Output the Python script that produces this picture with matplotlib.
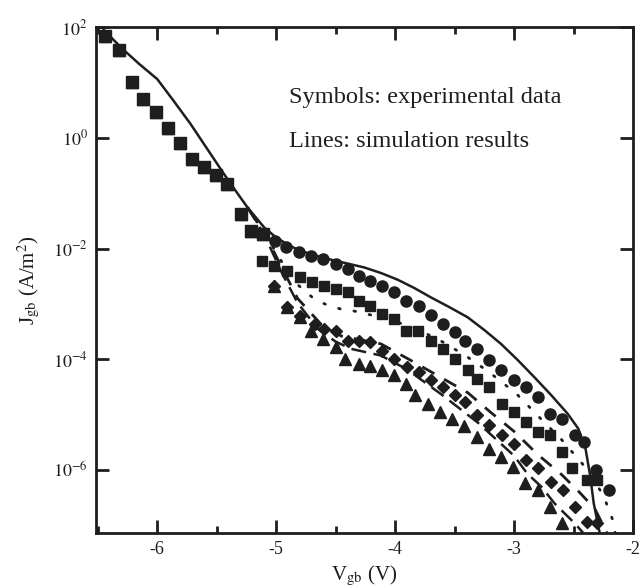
import numpy as np
import matplotlib
matplotlib.use("Agg")
import matplotlib.pyplot as plt
from matplotlib.ticker import FixedLocator, MultipleLocator

plt.rcParams["font.family"] = ["Liberation Serif", "DejaVu Serif"]
plt.rcParams["mathtext.fontset"] = "stix"

# ---- experimental data: gate voltage (V) and log10 of current density (A/m^2)
# high-field region where all four devices overlap
v_common = [-6.44, -6.32, -6.21, -6.12, -6.01, -5.91, -5.81, -5.71, -5.61,
            -5.51, -5.41, -5.30, -5.21, -5.11]
logj_common = [1.84, 1.58, 1.00, 0.70, 0.47, 0.17, -0.10, -0.38, -0.52,
               -0.68, -0.83, -1.37, -1.68, -1.74]

v_circle = [-5.01, -4.92, -4.81, -4.71, -4.61, -4.50, -4.40, -4.30, -4.21,
            -4.11, -4.01, -3.91, -3.80, -3.70, -3.60, -3.50, -3.41, -3.31,
            -3.21, -3.11, -3.00, -2.90, -2.80, -2.70, -2.60, -2.49, -2.41,
            -2.31, -2.20]
logj_circle = [-1.86, -1.98, -2.07, -2.13, -2.19, -2.28, -2.37, -2.49, -2.58,
               -2.67, -2.79, -2.94, -3.03, -3.19, -3.36, -3.51, -3.66, -3.81,
               -4.02, -4.20, -4.38, -4.50, -4.68, -4.98, -5.07, -5.37, -5.49,
               -6.00, -6.36]

v_square = [-5.12, -5.02, -4.91, -4.80, -4.70, -4.60, -4.50, -4.40, -4.30,
            -4.21, -4.11, -4.01, -3.91, -3.81, -3.70, -3.60, -3.50, -3.39,
            -3.31, -3.21, -3.10, -3.00, -2.90, -2.80, -2.70, -2.60, -2.51,
            -2.39, -2.30]
logj_square = [-2.22, -2.31, -2.40, -2.52, -2.61, -2.68, -2.73, -2.79, -2.94,
               -3.03, -3.18, -3.27, -3.48, -3.48, -3.66, -3.81, -3.99, -4.20,
               -4.35, -4.50, -4.80, -4.95, -5.13, -5.31, -5.37, -5.67, -5.97,
               -6.18, -6.18]

v_diamond = [-5.02, -4.91, -4.80, -4.67, -4.60, -4.50, -4.40, -4.30, -4.21,
             -4.11, -4.01, -3.90, -3.80, -3.70, -3.60, -3.50, -3.41, -3.31,
             -3.21, -3.10, -3.00, -2.90, -2.80, -2.69, -2.59, -2.49, -2.39,
             -2.30]
logj_diamond = [-2.67, -3.05, -3.22, -3.36, -3.45, -3.48, -3.66, -3.66, -3.69,
                -3.84, -3.99, -4.14, -4.23, -4.38, -4.50, -4.65, -4.77, -5.01,
                -5.19, -5.37, -5.52, -5.82, -5.97, -6.21, -6.36, -6.67, -6.93,
                -6.96]

v_triangle = [-5.02, -4.91, -4.80, -4.71, -4.61, -4.50, -4.42, -4.30, -4.21,
              -4.11, -4.01, -3.91, -3.83, -3.72, -3.62, -3.52, -3.42, -3.31,
              -3.21, -3.11, -3.01, -2.91, -2.80, -2.70, -2.60]
logj_triangle = [-2.67, -3.05, -3.24, -3.48, -3.63, -3.78, -3.99, -4.08, -4.12,
                 -4.20, -4.29, -4.44, -4.65, -4.80, -4.95, -5.07, -5.20, -5.40,
                 -5.61, -5.76, -5.94, -6.24, -6.36, -6.66, -6.96]

# ---- simulation curves
v_sim1 = [-6.45, -6.30, -6.15, -6.00, -5.86, -5.72, -5.58, -5.44, -5.34,
          -5.24, -5.10, -5.00, -4.90, -4.82, -4.68, -4.54, -4.40, -4.26,
          -4.12, -3.98, -3.84, -3.70, -3.55, -3.39, -3.25, -3.11, -2.97,
          -2.83, -2.69, -2.55, -2.46, -2.40, -2.36, -2.33, -2.28]
logj_sim1 = [1.95, 1.62, 1.33, 1.06, 0.66, 0.25, -0.20, -0.65, -0.96,
             -1.26, -1.62, -1.80, -1.93, -2.02, -2.12, -2.20, -2.27, -2.34,
             -2.44, -2.56, -2.71, -2.88, -3.05, -3.24, -3.47, -3.72, -4.01,
             -4.32, -4.64, -4.98, -5.25, -5.60, -6.10, -6.60, -7.13]

v_sim2 = [-5.24, -5.10, -4.95, -4.82, -4.68, -4.58, -4.46, -4.36, -4.10,
          -3.85, -3.62, -3.41, -3.21, -2.98, -2.79, -2.60, -2.40, -2.25,
          -2.17, -2.15]
logj_sim2 = [-1.26, -1.72, -2.25, -2.65, -2.91, -3.01, -3.09, -3.12, -3.25,
             -3.42, -3.66, -3.93, -4.23, -4.62, -5.04, -5.45, -5.95, -6.45,
             -6.90, -7.13]

v_sim3 = [-5.24, -5.10, -4.95, -4.82, -4.60, -4.45, -4.12, -3.90, -3.62,
          -3.39, -3.20, -3.00, -2.80, -2.60, -2.45, -2.32, -2.22]
logj_sim3 = [-1.26, -1.72, -2.35, -2.90, -3.42, -3.58, -3.72, -3.98, -4.32,
             -4.60, -4.95, -5.30, -5.72, -6.08, -6.40, -6.70, -7.13]

v_sim4 = [-5.24, -5.10, -4.95, -4.82, -4.65, -4.50, -4.37, -4.12, -3.90,
          -3.60, -3.30, -3.00, -2.89, -2.77, -2.66, -2.49, -2.42]
logj_sim4 = [-1.26, -1.75, -2.45, -2.98, -3.45, -3.68, -3.81, -3.93, -4.18,
             -4.65, -5.15, -5.74, -6.06, -6.30, -6.60, -6.96, -7.13]

x_ticks = [-6, -5, -4, -3, -2]
y_ticks = [1e-6, 1e-4, 1e-2, 1e0, 1e2]
y_ticklabels = [r"$10^{-6}$", r"$10^{-4}$", r"$10^{-2}$", r"$10^{0}$", r"$10^{2}$"]

fig = plt.figure(figsize=(6.41, 5.88), dpi=100)
ax = fig.add_axes([0.1498, 0.0935, 0.8377, 0.8605])

def J(vals):
    return 10.0 ** np.asarray(vals)

ink = "#1e1e1e"

# simulation lines
ax.plot(v_sim1, J(logj_sim1), color=ink, lw=1.8, solid_joinstyle="round")
ax.plot(v_sim2, J(logj_sim2), color=ink, lw=2.0, linestyle=(0, (0.6, 5.0)),
        dash_capstyle="round")
ax.plot(v_sim3, J(logj_sim3), color=ink, lw=2.0, linestyle=(0, (5, 4)))
ax.plot(v_sim4, J(logj_sim4), color=ink, lw=1.8, linestyle=(0, (6, 3)))

# experimental symbols
ms = 8.0
for marker in ["o", "s", "D", "^"]:
    s = ms * (0.8 if marker == "D" else 1.0)
    ax.plot(v_common, J(logj_common), linestyle="none", marker=marker,
            markersize=s, color=ink)
ax.plot(v_circle, J(logj_circle), "o", markersize=ms, color=ink)
ax.plot(v_square, J(logj_square), "s", markersize=ms * 0.95, color=ink)
ax.plot(v_diamond, J(logj_diamond), "D", markersize=ms * 0.8, color=ink)
ax.plot(v_triangle, J(logj_triangle), "^", markersize=ms, color=ink)

ax.set_yscale("log")
ax.set_xlim(-6.515, -2.0)
ax.set_ylim(10 ** -7.135, 1e2)

ax.xaxis.set_major_locator(FixedLocator(x_ticks))
ax.xaxis.set_minor_locator(MultipleLocator(0.5))
ax.set_xticklabels([str(t) for t in x_ticks])
ax.yaxis.set_major_locator(FixedLocator(y_ticks))
ax.yaxis.set_minor_locator(FixedLocator([]))
ax.set_yticklabels(y_ticklabels)

ax.tick_params(which="both", direction="in", top=True, right=True,
               width=2.0, labelsize=13, color=ink, labelcolor=ink)
ax.tick_params(which="major", length=9.5, pad=6)
ax.tick_params(which="minor", length=5)
for sp in ax.spines.values():
    sp.set_linewidth(2.0)
    sp.set_color(ink)

ax.set_xlabel(r"V$_{\rm gb}$ (V)", fontsize=15, color=ink, labelpad=4)
ax.set_ylabel(r"J$_{\rm gb}$ (A/m$^{2}$)", fontsize=15, color=ink, labelpad=8)

ax.text(0.359, 0.850, "Symbols: experimental data", transform=ax.transAxes,
        fontsize=17.6, va="baseline", ha="left", color=ink)
ax.text(0.359, 0.763, "Lines: simulation results", transform=ax.transAxes,
        fontsize=17.6, va="baseline", ha="left", color=ink)

fig.savefig("out.png", dpi=100)
